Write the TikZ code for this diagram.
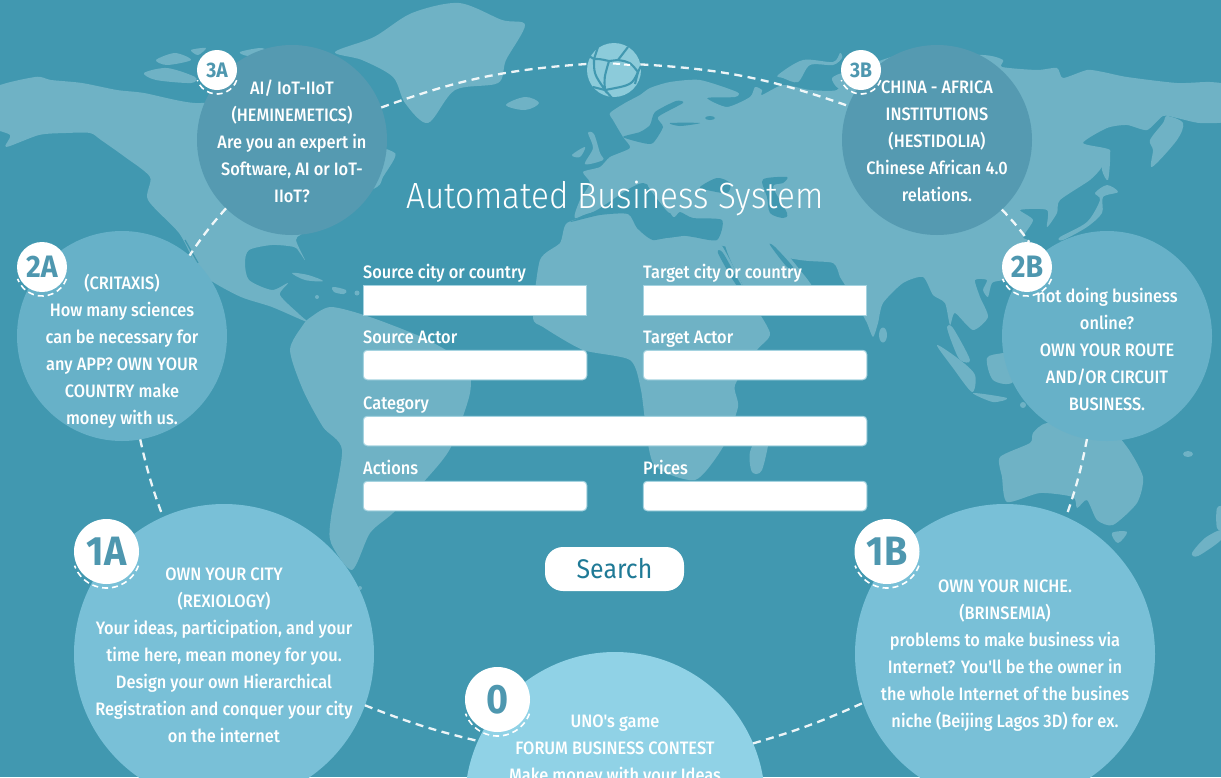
\documentclass[tikz,border=0pt]{standalone}
\usepackage{fontspec}
\newfontfamily\bodyfont{Fira Sans}[FakeStretch=0.91,UprightFont=* Medium]
\newfontfamily\titlefont{Fira Sans Light}[FakeStretch=0.91]
\newfontfamily\searchfont{Fira Sans}[FakeStretch=0.92]
\newfontfamily\badgefont{Fira Sans}[FakeStretch=0.92,UprightFont=* Bold]
\definecolor{bgc}{HTML}{4198B0}
\definecolor{landc}{HTML}{6FB2C5}
\definecolor{cthree}{HTML}{559AB1}
\definecolor{ctwo}{HTML}{67B1C8}
\definecolor{cone}{HTML}{79C0D7}
\definecolor{czero}{HTML}{90D2E6}
\definecolor{globec}{HTML}{8CCBDA}
\definecolor{badgetext}{HTML}{4E97AF}
\definecolor{fieldedge}{HTML}{A5D3E0}
\definecolor{searchc}{HTML}{1F7A96}
\tikzset{
  land/.style={fill=landc,draw=none},
  sea/.style={fill=bgc,draw=none},
  bubble/.style={circle,draw=none,inner sep=0pt,outer sep=0pt},
  badge/.style={circle,fill=white,draw=none,inner sep=0pt,outer sep=0pt,text=badgetext},
  link/.style={draw=white,draw opacity=.9,line width=2.3pt,dash pattern=on 8pt off 5.5pt},
  ring/.style={draw=white,line width=1.6pt,dash pattern=on 6pt off 4pt},
  body/.style={align=center,text=white,inner sep=0pt,font=\bodyfont\fontsize{18}{27}\selectfont},
  lab/.style={anchor=base west,text=white,inner sep=0pt,font=\bodyfont\fontsize{18}{22}\selectfont},
  field/.style={fill=white,draw=fieldedge,line width=1pt,rounded corners=4pt,inner sep=0pt,minimum height=29.5pt},
  netline/.style={draw=bgc,line width=2.1pt},
}
\begin{document}
\begin{tikzpicture}[x=1pt,y=-1pt]
\useasboundingbox (0,0) rectangle (1221,777);
\clip (0,0) rectangle (1221,777);
\fill[bgc] (0,0) rectangle (1221,777);
% --- map ---
% North America
\fill[land] plot[smooth cycle,tension=.45] coordinates {(-10,90)(35,77)(51,80)(82,83)(117,90)(144,93)(195,103)(260,100)(330,130)(389,150)(395,157)(383,177)(377,187)(340,205)(303,233)(296,240)(305,260)(300,253)(294,247)(272,245)(249,250)(245,263)(249,280)(272,290)(288,283)(280,295)(300,315)(307,322)(272,307)(241,297)(210,280)(195,263)(179,233)(148,200)(150,177)(125,157)(101,140)(90,133)(66,133)(39,135)(6,147)(10,135)(-10,125)};
% Arctic islands
\fill[land] plot[smooth cycle,tension=.5] coordinates {(156,60)(175,53)(191,60)(167,65)};
\fill[land] plot[smooth cycle,tension=.5] coordinates {(191,50)(206,48)(198,55)};
\fill[land] plot[smooth cycle,tension=.5] coordinates {(144,73)(167,68)(195,77)(191,83)(156,80)};
\fill[land] plot[smooth cycle,tension=.5] coordinates {(240,52)(262,48)(270,55)(248,56)};
% Greenland
\fill[land] plot[smooth cycle,tension=.5] coordinates {(335,52)(374,37)(412,13)(459,3)(502,20)(525,25)(506,60)(498,83)(455,90)(428,123)(405,103)(393,77)(362,60)};
% Iceland, UK, Ireland
\fill[land] plot[smooth cycle,tension=.6] coordinates {(506,105)(525,97)(539,103)(525,110)};
\fill[land] plot[smooth cycle,tension=.5] coordinates {(588,133)(594,134)(600,153)(603,160)(585,164)(593,148)};
\fill[land] plot[smooth cycle,tension=.6] coordinates {(572,155)(585,147)(580,157)};
% Caribbean
\fill[land] plot[smooth cycle,tension=.6] coordinates {(292,273)(308,275)(323,281)(305,280)};
\fill[land] plot[smooth cycle,tension=.6] coordinates {(333,287)(346,290)(344,294)(334,292)};
\fill[land] (317,297) circle[radius=2];
\fill[land] (357,293) circle[radius=2.5];
% South America
\fill[land] plot[smooth cycle,tension=.45] coordinates {(311,317)(331,307)(370,317)(428,340)(466,365)(470,393)(451,447)(428,477)(393,513)(370,533)(352,570)(331,543)(331,517)(342,450)(323,427)(303,390)(290,350)(303,325)};
\fill[land] (360,588) circle[radius=2];
% Africa
\fill[land] plot[smooth cycle,tension=.4] coordinates {(567,223)(600,213)(628,212)(653,238)(693,235)(718,240)(748,295)(770,333)(757,350)(735,385)(738,407)(723,447)(695,480)(653,463)(641,390)(630,360)(583,350)(543,327)(533,317)(540,260)(560,243)};
\fill[land] plot[smooth cycle,tension=.5] coordinates {(762,428)(770,432)(762,470)(752,472)(750,452)};
% Eurasia
\fill[land] plot[smooth cycle,tension=.4] coordinates {(720,245)(700,225)(600,212)(575,218)(580,200)(590,183)(583,172)(600,167)(610,157)(630,148)(623,137)(613,120)(610,113)(625,103)(640,95)(650,88)(670,82)(700,80)(737,92)(735,97)(707,98)(727,107)(750,97)(755,87)(762,90)(762,95)(783,85)(810,90)(837,90)(847,75)(900,55)(983,55)(1003,60)(1002,67)(1037,70)(1057,68)(1063,78)(1087,70)(1103,72)(1127,77)(1177,83)(1210,82)(1230,87)(1230,120)(1200,123)(1177,118)(1163,116)(1147,130)(1127,125)(1107,128)(1083,143)(1110,150)(1102,167)(1090,180)(1060,200)(1057,213)(1047,227)(1047,210)(1020,210)(1033,220)(1023,237)(1030,242)(1040,270)(1003,280)(992,283)(988,297)(983,290)(987,280)(975,280)(980,297)(988,317)(973,330)(955,313)(950,325)(945,303)(933,295)(923,277)(903,283)(883,303)(878,323)(873,337)(867,323)(860,310)(845,285)(840,277)(833,263)(800,260)};
% Arabia
\fill[land] plot[smooth cycle,tension=.5] coordinates {(725,240)(770,240)(800,270)(815,295)(790,308)(760,312)(748,295)};
% Kamchatka, Sakhalin, Japan, Novaya Zemlya
\fill[land] plot[smooth cycle,tension=.5] coordinates {(1167,116)(1183,123)(1177,140)(1152,167)(1153,150)(1150,140)(1163,123)};
\fill[land] plot[smooth cycle,tension=.5] coordinates {(1103,153)(1110,153)(1108,180)(1102,170)};
\fill[land] plot[smooth cycle,tension=.5] coordinates {(1060,237)(1087,222)(1100,200)(1095,193)(1107,185)(1118,192)(1103,197)(1102,213)(1087,227)(1063,240)};
\fill[land] plot[smooth cycle,tension=.5] coordinates {(778,75)(803,60)(833,62)(840,53)(842,58)(833,65)(810,65)(798,82)(783,78)};
\fill[land] plot[smooth cycle,tension=.5] coordinates {(832,78)(845,73)(850,85)(838,88)};
% Seas
\fill[sea] plot[smooth cycle,tension=.4] coordinates {(570,222)(597,210)(627,190)(643,183)(657,192)(673,217)(680,212)(693,218)(722,220)(717,240)(693,237)(677,235)(653,240)(637,228)(628,214)(600,215)};
\fill[land] plot[smooth cycle,tension=.5] coordinates {(648,186)(655,186)(672,208)(668,212)};
\fill[sea] plot[smooth cycle,tension=.5] coordinates {(700,187)(717,178)(730,183)(727,193)(707,190)};
\fill[sea] plot[smooth cycle,tension=.5] coordinates {(767,178)(787,177)(783,183)(773,187)(787,213)(783,218)(770,213)(767,197)(762,182)};
\fill[sea] plot[smooth cycle,tension=.5] coordinates {(718,253)(723,253)(740,283)(750,296)(745,296)(733,280)};
\fill[sea] plot[smooth cycle,tension=.5] coordinates {(770,245)(775,247)(793,267)(787,267)};
\fill[sea] plot[smooth cycle,tension=.4] coordinates {(623,137)(643,143)(653,143)(663,127)(658,117)(683,103)(676,101)(655,112)(650,125)(640,132)};
\fill[sea] plot[smooth cycle,tension=.5] coordinates {(670,123)(700,123)(680,126)};
\fill[sea] (710,118) ellipse[x radius=5,y radius=2];
% South-east Asia and Oceania
\fill[land] (883,335) ellipse[x radius=4,y radius=7.5];
\fill[land] plot[smooth cycle,tension=.5] coordinates {(947,327)(953,328)(970,360)(960,360)(952,343)};
\fill[land] plot[smooth cycle,tension=.5] coordinates {(937,345)(960,360)(975,375)(972,392)(953,368)};
\fill[land] plot[smooth cycle,tension=.5] coordinates {(973,393)(1007,398)(993,402)};
\fill[land] plot[smooth cycle,tension=.5] coordinates {(987,358)(1003,353)(1020,350)(1013,382)(993,380)};
\fill[land] (1023,405) circle[radius=3];
\fill[land] plot[smooth cycle,tension=.4] coordinates {(1000,457)(1030,443)(1033,433)(1047,423)(1100,420)(1127,447)(1143,477)(1137,503)(1113,525)(1097,520)(1087,500)(1077,508)(1073,497)(1040,493)(1007,502)(1002,477)};
\fill[land] plot[smooth cycle,tension=.6] coordinates {(1112,533)(1127,532)(1118,543)};
\fill[land] (1188,454) ellipse[x radius=5,y radius=3];
\fill[land] plot[smooth cycle,tension=.5] coordinates {(1192,553)(1205,538)(1221,530)(1221,540)(1198,556)};
\fill[land] plot[smooth cycle,tension=.5] coordinates {(1217,508)(1225,508)(1225,530)(1217,528)};
\draw[bgc,line width=1.3pt] (185,240) -- (198,263);
% --- big circles ---
\node[bubble,fill=cthree,minimum size=190pt] (c3a) at (292,140) {};
\node[bubble,fill=cthree,minimum size=190pt] (c3b) at (937,140) {};
\node[bubble,fill=ctwo,minimum size=210pt] (c2a) at (122,336) {};
\node[bubble,fill=ctwo,minimum size=210pt] (c2b) at (1107,336) {};
\node[bubble,fill=cone,minimum size=300pt] (c1a) at (224,654) {};
\node[bubble,fill=cone,minimum size=300pt] (c1b) at (1005,654) {};
\node[bubble,fill=czero,minimum size=300pt] (c0) at (615,802) {};
% globe
\node[bubble,fill=globec,minimum size=54pt] (globe) at (614,70) {};
\coordinate (ga) at (594,59);
\coordinate (gb) at (609,61);
\coordinate (gc) at (638,72);
\coordinate (gd) at (605,90);
\coordinate (ge) at (618,60);
\draw[netline] (589,56) -- (ga) .. controls (600,59) .. (gb) -- (ge) .. controls (630,62) .. (gc) .. controls (632,85) .. (gd) -- (612,98);
\draw[netline] (ga) .. controls (594,74) .. (gd) .. controls (604,78) .. (gb);
\draw[netline] (ge) -- (628,47);
\draw[netline] (ga) -- (598,47);
\draw[netline] (gc) -- (642,64);
\draw[netline] (gc) -- (635,84);
\draw[netline] (gd) -- (593,87);
\draw[draw=white,line width=2pt] (613,63.5) -- (620,64);
\draw[draw=white,line width=2pt] (624,64.5) -- (630,65);
% --- connectors ---
\draw[link] (c3a.20.5) to[bend left=8] (globe.167);
\draw[link] (globe.12) to[bend left=8] (c3b.159.7);
\draw[link] (c3a.226.7) to[bend right=4] (c2a.50.4);
\draw[link] (c2a.280.3) to[bend right=4] (c1a.114.2);
\draw[link] (c2b.259.2) to[bend left=4] (c1b.66.1);
\draw[link] (c1a.340.1) to[bend right=4] (c0.156.5);
\draw[link] (c0.23.9) to[bend right=4] (c1b.199.9);
% --- body texts ---
\node[body] (t3a) at (292,141) {AI/ IoT-IIoT\\(HEMINEMETICS)\\Are you an expert in\\Software, AI or IoT-\\IIoT?};
\node[body] (t3b) at (937,141) {CHINA - AFRICA\\INSTITUTIONS\\(HESTIDOLIA)\\Chinese African 4.0\\relations.};
\node[body] (t2a) at (122,351) {(CRITAXIS)\\How many sciences\\can be necessary for\\any APP? OWN YOUR\\COUNTRY make\\money with us.};
\node[body] (t2b) at (1107,349.5) {not doing business\\online?\\OWN YOUR ROUTE\\AND/OR CIRCUIT\\BUSINESS.};
\node[body] (t1a) at (224,655) {OWN YOUR CITY\\(REXIOLOGY)\\Your ideas, participation, and your\\time here, mean money for you.\\Design your own Hierarchical\\Registration and conquer your city\\on the internet};
\node[body] (t1b) at (1005,656) {OWN YOUR NICHE.\\(BRINSEMIA)\\problems to make business via\\Internet? You'll be the owner in\\the whole Internet of the busines\\niche (Beijing Lagos 3D) for ex.};
\node[body] (t0) at (615,750.5) {UNO's game\\FORUM BUSINESS CONTEST\\Make money with your Ideas};
% --- badges ---
\node[badge,minimum size=40pt,font=\badgefont\fontsize{21}{21}\selectfont] (b3a) at (217,70) {3A};
\node[badge,minimum size=40pt,font=\badgefont\fontsize{21}{21}\selectfont] (b3b) at (861,70) {3B};
\node[badge,minimum size=50pt,font=\badgefont\fontsize{31}{31}\selectfont] (b2a) at (42,267) {2A};
\node[badge,minimum size=50pt,font=\badgefont\fontsize{31}{31}\selectfont] (b2b) at (1027,267) {2B};
\node[badge,minimum size=65pt,font=\badgefont\fontsize{41}{41}\selectfont] (b1a) at (106.5,551.5) {1A};
\node[badge,minimum size=65pt,font=\badgefont\fontsize{41}{41}\selectfont] (b1b) at (887,551.5) {1B};
\node[badge,minimum size=65pt,font=\badgefont\fontsize{41}{41}\selectfont] (b0) at (497.5,699.5) {0};
\foreach \cx/\cy/\r in {217/73/21,861/73/21,42/270/26,1027/270/26,106.5/554/34,887/554/34,497.5/702/34}
  \draw[ring] ({\cx+\r*cos(20)},{\cy+\r*sin(20)}) arc[start angle=20,end angle=160,radius=\r];
\draw[link] (c3b.313.3) to[bend left=4] (b2b.85);
% --- title and form ---
\node[text=white,inner sep=0pt,font=\titlefont\fontsize{36.5}{40}\selectfont] (title) at (615,198) {Automated Business System};
\node[lab] (l1) at (363,278) {Source city or country};
\node[lab] (l2) at (643,278) {Target city or country};
\node[lab] (l3) at (363,343) {Source Actor};
\node[lab] (l4) at (643,343) {Target Actor};
\node[lab] (l5) at (363,409) {Category};
\node[lab] (l6) at (363,474) {Actions};
\node[lab] (l7) at (643,474) {Prices};
\node[field,rounded corners=0pt,minimum width=223.5pt] (f1) at (475,300.5) {};
\node[field,rounded corners=0pt,minimum width=223.5pt] (f2) at (755,300.5) {};
\node[field,minimum width=223.5pt] (f3) at (475,365) {};
\node[field,minimum width=223.5pt] (f4) at (755,365) {};
\node[field,minimum width=503.5pt] (f5) at (615,431) {};
\node[field,minimum width=223.5pt] (f6) at (475,496) {};
\node[field,minimum width=223.5pt] (f7) at (755,496) {};
\node[fill=white,rounded corners=18pt,minimum width=139pt,minimum height=44pt,inner sep=0pt,text=searchc,font=\searchfont\fontsize{27}{30}\selectfont] (search) at (614.5,569) {\raisebox{-1pt}{Search}};
\end{tikzpicture}
\end{document}
